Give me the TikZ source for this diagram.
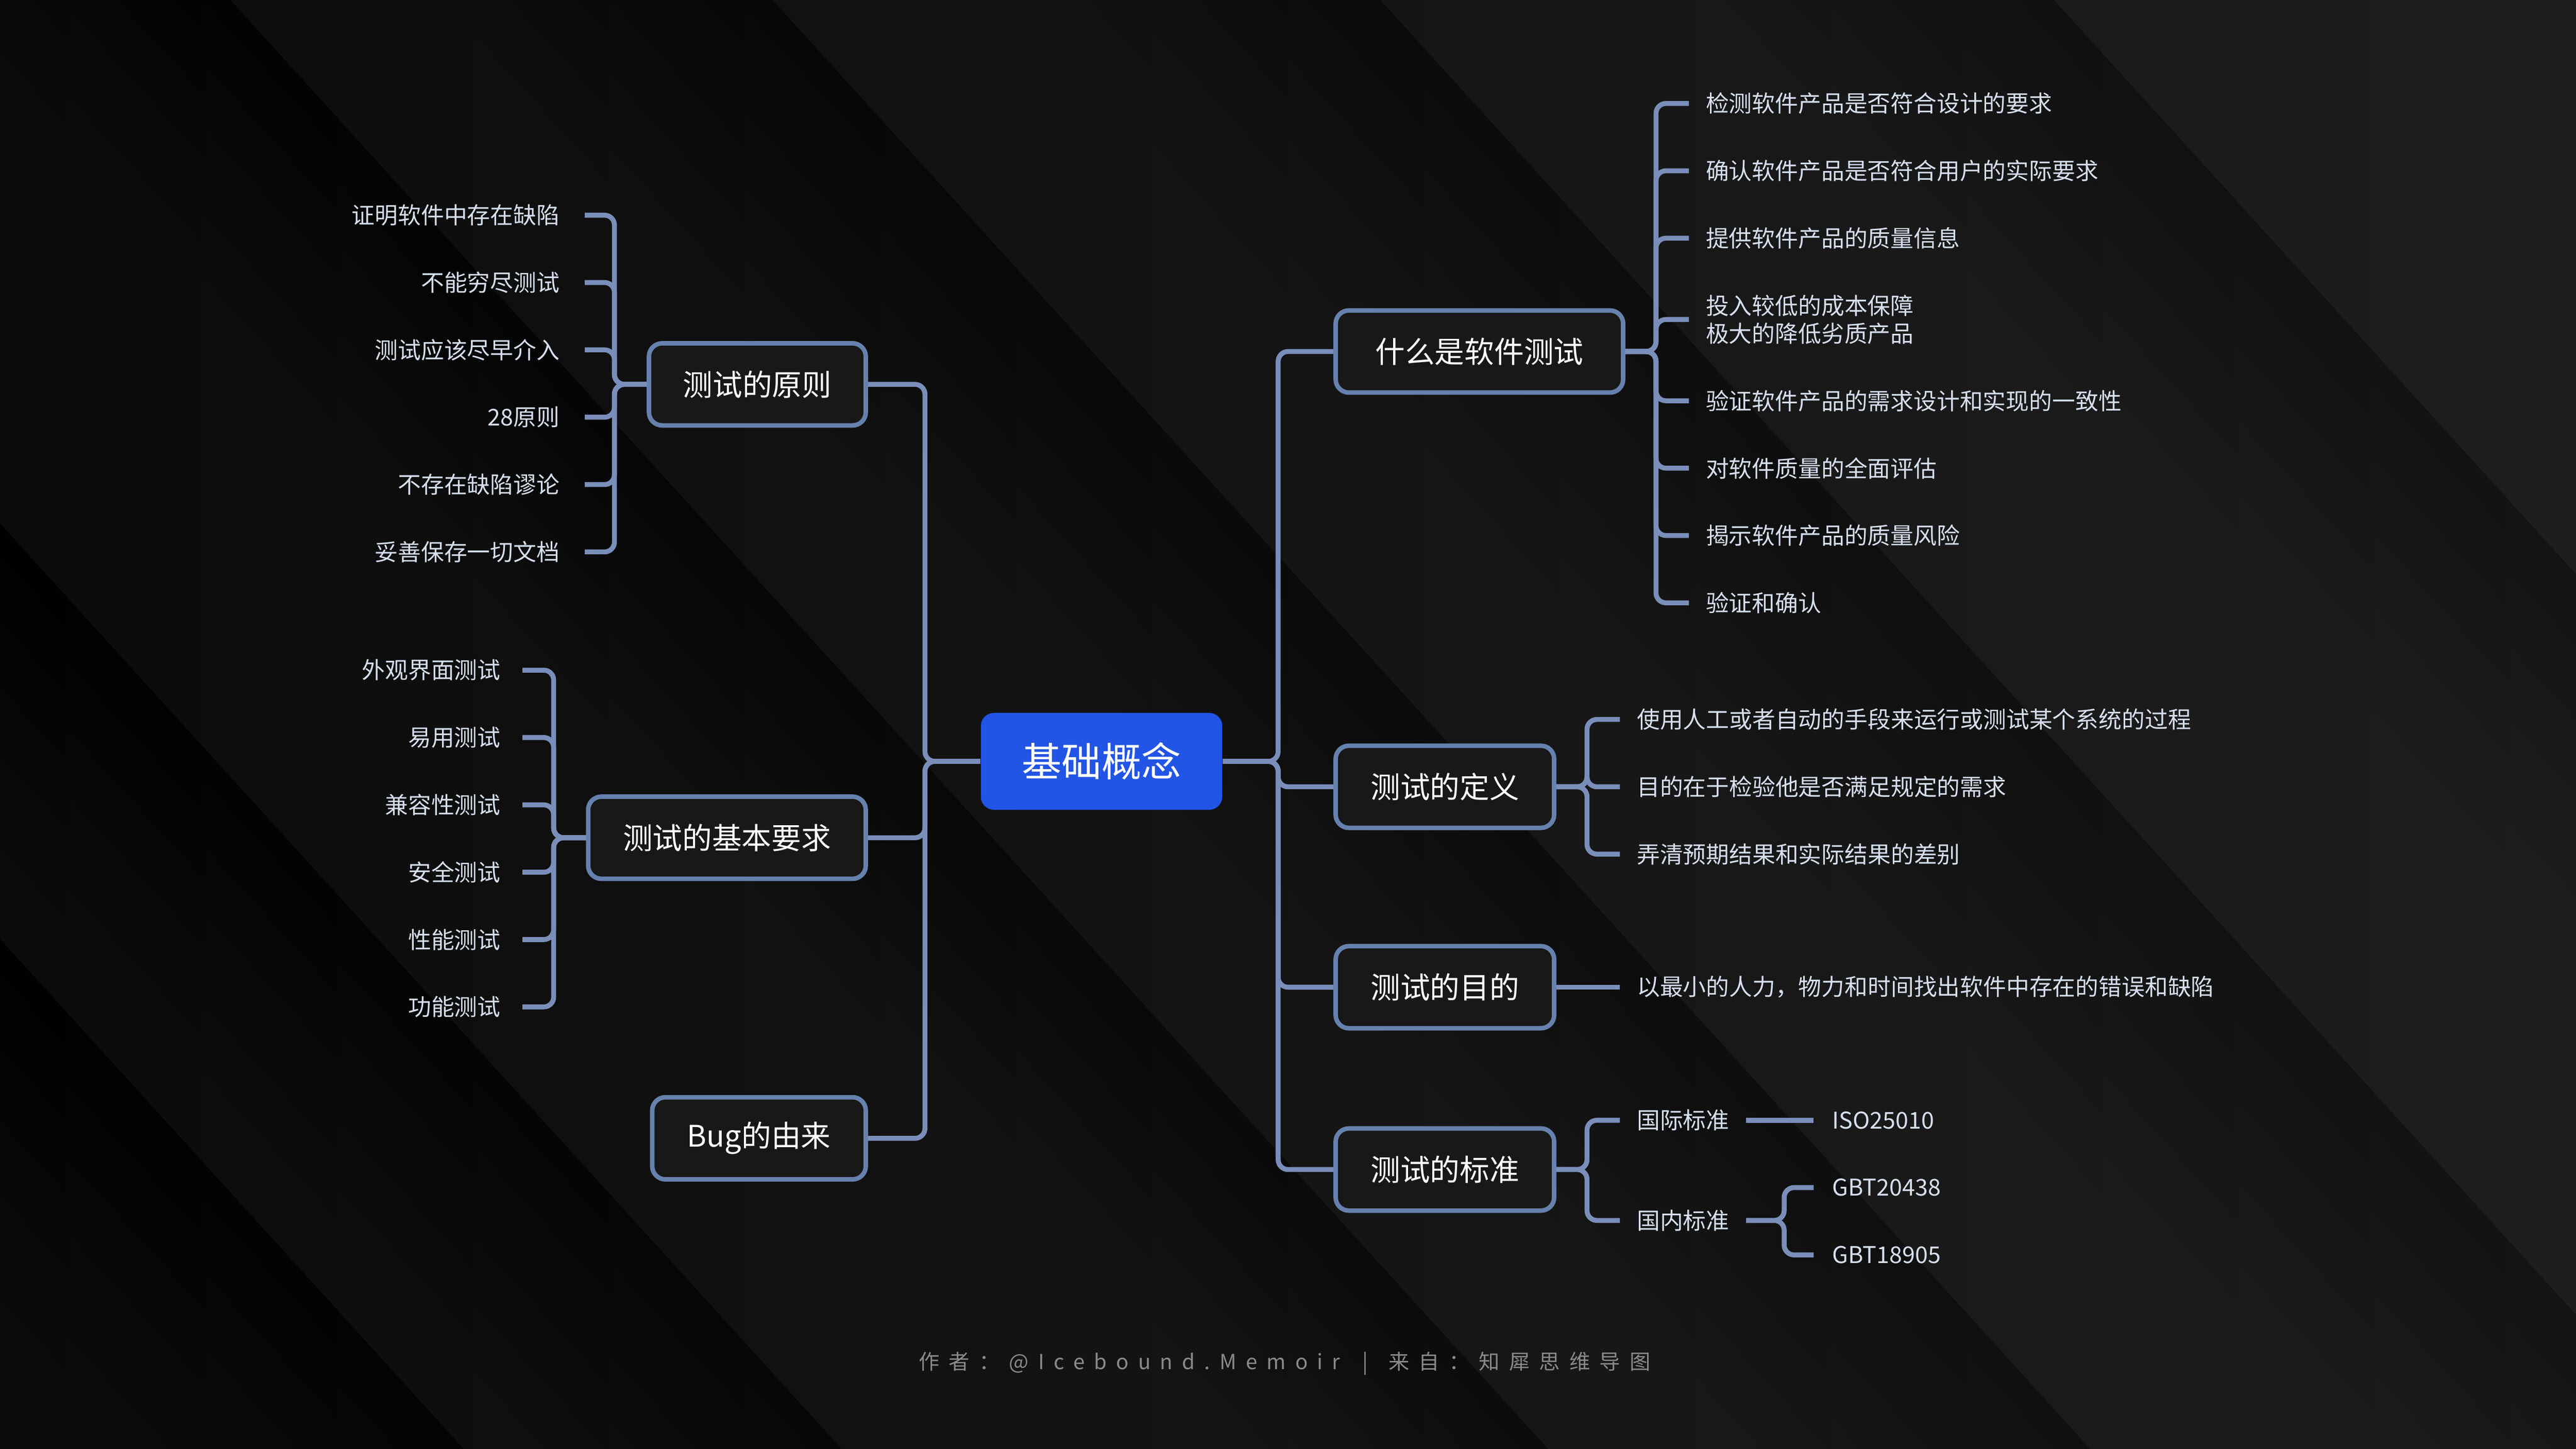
\documentclass[tikz,border=0pt]{standalone}
\usepackage{fontspec}
\setmainfont{Noto Sans CJK SC}
\newfontfamily\footfont[LetterSpace=45]{Noto Sans CJK SC}
\usetikzlibrary{calc}
\definecolor{bgL}{HTML}{0B0B0B}
\definecolor{bgM}{HTML}{191919}
\definecolor{bgR}{HTML}{1E1E1E}
\definecolor{conncol}{HTML}{7A8EBA}
\definecolor{bordercol}{HTML}{6681AD}
\definecolor{boxfill}{HTML}{181818}
\definecolor{leafcol}{HTML}{D6DFEE}
\definecolor{centerfill}{HTML}{2254E6}
\definecolor{footcol}{HTML}{8A8A8A}
\newcommand\leafsz{\fontsize{8pt}{9.7pt}\selectfont}
\newcommand\mainsz{\fontsize{10.3pt}{12pt}\selectfont}
\newcommand\bgband[3]{%
  \foreach \k in {1,...,10}{%
    \pgfmathsetmacro\xa{#1}\pgfmathsetmacro\xb{#1+802}\pgfmathsetmacro\ww{#2*\k/10}%
    \fill[black,opacity=#3] (\xa,0) -- (\xb,882) -- (\xb-\ww,882) -- (\xa-\ww,0) -- cycle;
  }%
}
\tikzset{
  conn/.style={draw=conncol, line width=0.06cm, rounded corners=0.12cm},
  mainbox/.style={draw=bordercol, line width=0.055cm, rounded corners=0.16cm, fill=boxfill,
    text=white, font=\mainsz, minimum height=1cm, inner sep=0pt},
  centerbox/.style={fill=centerfill, rounded corners=0.16cm, text=white,
    font=\fontsize{13.8pt}{16pt}\selectfont, minimum width=2.94cm, minimum height=1.18cm, inner sep=0pt},
  leafL/.style={anchor=east, text=leafcol, font=\leafsz, inner xsep=0.3cm, inner ysep=0pt},
  leafLb/.style={leafL, inner xsep=0.26cm},
  leafR/.style={anchor=west, text=leafcol, font=\leafsz, inner xsep=0.2cm, inner ysep=0pt, align=left},
  leafRs/.style={leafR, inner xsep=0.22cm},
  foottext/.style={text=footcol, font={\footfont\fontsize{7.2pt}{8.6pt}\selectfont}, inner sep=0pt}
}
\begin{document}
\begin{tikzpicture}[x=0.02cm, y=-0.02cm]
\useasboundingbox (0,0) rectangle (1568,882);
% background
\begin{scope}
\clip (0,0) rectangle (1568,882);
\shade[left color=bgL, middle color=bgM, right color=bgR] (0,0) rectangle (1568,882);
\bgband{140}{170}{0.035}
\bgband{470}{200}{0.032}
\bgband{840}{220}{0.032}
\bgband{1250}{200}{0.028}
\bgband{-290}{180}{0.035}
\bgband{-520}{200}{0.035}
\end{scope}

% center
\node[centerbox] (c) at (670.5,463.5) {基础概念};

% left main nodes
\node[mainbox, minimum width=2.64cm] (p1) at (461,234) {测试的原则};
\node[mainbox, minimum width=3.38cm] (p2) at (442.5,510) {测试的基本要求};
\node[mainbox, minimum width=2.6cm] (p3) at (462,693) {Bug的由来};

% right main nodes
\node[mainbox, minimum width=3.5cm] (r1) at (900.5,214) {什么是软件测试};
\node[mainbox, minimum width=2.66cm] (r2) at (879.5,479) {测试的定义};
\node[mainbox, minimum width=2.66cm] (r3) at (879.5,601) {测试的目的};
\node[mainbox, minimum width=2.66cm] (r4) at (879.5,712) {测试的标准};

% leaves of 测试的原则
\node[leafL] (a1) at (356,131) {证明软件中存在缺陷};
\node[leafL] (a2) at (356,172) {不能穷尽测试};
\node[leafL] (a3) at (356,213) {测试应该尽早介入};
\node[leafL] (a4) at (356,254) {28原则};
\node[leafL] (a5) at (356,295) {不存在缺陷谬论};
\node[leafL] (a6) at (356,336) {妥善保存一切文档};

% leaves of 测试的基本要求
\node[leafLb] (e1) at (318,408) {外观界面测试};
\node[leafLb] (e2) at (318,449) {易用测试};
\node[leafLb] (e3) at (318,490) {兼容性测试};
\node[leafLb] (e4) at (318,531) {安全测试};
\node[leafLb] (e5) at (318,572) {性能测试};
\node[leafLb] (e6) at (318,613) {功能测试};

% leaves of 什么是软件测试
\node[leafR] (b1) at (1028,63) {检测软件产品是否符合设计的要求};
\node[leafR] (b2) at (1028,104) {确认软件产品是否符合用户的实际要求};
\node[leafR] (b3) at (1028,145) {提供软件产品的质量信息};
\node[leafR] (b4) at (1028,194.5) {投入较低的成本保障\\极大的降低劣质产品};
\node[leafR] (b5) at (1028,244) {验证软件产品的需求设计和实现的一致性};
\node[leafR] (b6) at (1028,285) {对软件质量的全面评估};
\node[leafR] (b7) at (1028,326) {揭示软件产品的质量风险};
\node[leafR] (b8) at (1028,367) {验证和确认};

% leaves of 测试的定义
\node[leafR] (d1) at (986,438) {使用人工或者自动的手段来运行或测试某个系统的过程};
\node[leafR] (d2) at (986,479) {目的在于检验他是否满足规定的需求};
\node[leafR] (d3) at (986,520) {弄清预期结果和实际结果的差别};

% leaf of 测试的目的
\node[leafR] (m1) at (986,601) {以最小的人力，物力和时间找出软件中存在的错误和缺陷};

% leaves of 测试的标准
\node[leafR] (s1) at (986,682) {国际标准};
\node[leafR] (s2) at (986,743) {国内标准};
\node[leafRs] (t1) at (1104,682) {ISO25010};
\node[leafRs] (g1) at (1104,723) {GBT20438};
\node[leafRs] (g2) at (1104,764) {GBT18905};

% trunks
\foreach \n in {p1,p2,p3} \draw[conn] (c.west) -- (563,463.5) |- (\n.east);
\foreach \n in {r1,r2,r3,r4} \draw[conn] (c.east) -- (778,463.5) |- (\n.west);

% brackets
\foreach \n in {a1,a2,a3,a4,a5,a6} \draw[conn] (p1.west) -- (374,234) |- (\n.east);
\foreach \n in {e1,e2,e3,e4,e5,e6} \draw[conn] (p2.west) -- (337,510) |- (\n.east);
\foreach \n in {b1,b2,b3,b4,b5,b6,b7,b8} \draw[conn] (r1.east) -- (1008,214) |- (\n.west);
\foreach \n in {d1,d2,d3} \draw[conn] (r2.east) -- (966,479) |- (\n.west);
\draw[conn] (r3.east) -- (m1.west);
\foreach \n in {s1,s2} \draw[conn] (r4.east) -- (966,712) |- (\n.west);
\draw[conn] (s1.east) -- (t1.west);
\foreach \n in {g1,g2} \draw[conn] (s2.east) -- (1086,743) |- (\n.west);

% footer
\node[foottext] (foot) at (782,830) {作者：@Icebound.Memoir\hspace{0.1cm} | \hspace{0.08cm}来自：知犀思维导图};
\end{tikzpicture}
\end{document}
